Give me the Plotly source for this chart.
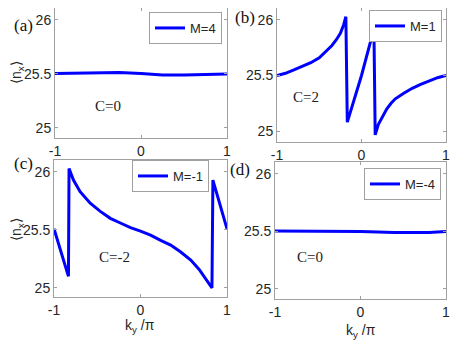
import plotly.graph_objects as go

W, H = 469, 352
OFF = 8  # browser body margin around the plot div
PW, PH = W - 2 * OFF, H - 2 * OFF

# panel (a), M=4, nearly flat
ky_a = [-1.0, -0.75, -0.5, -0.25, 0.0, 0.25, 0.5, 0.75, 1.0]
nx_a = [25.505, 25.507, 25.51, 25.513, 25.505, 25.49, 25.49, 25.495, 25.50]

# panel (b), M=1
ky_b = [-1.0, -0.9, -0.8, -0.7, -0.6, -0.5, -0.4, -0.35, -0.3, -0.25, -0.21, -0.185,
        -0.168, 0.0, 0.147, 0.162, 0.2, 0.25, 0.3, 0.35, 0.4, 0.5, 0.6, 0.7, 0.8, 0.9, 1.0]
nx_b = [25.50, 25.52, 25.55, 25.58, 25.615, 25.66, 25.73, 25.77, 25.82, 25.88, 25.96, 26.03,
        25.08, 25.50, 25.92, 24.965, 25.06, 25.13, 25.20, 25.25, 25.29, 25.34, 25.385, 25.42, 25.45, 25.48, 25.50]

# panel (c), M=-1
ky_c = [-1.0, -0.833, -0.826, -0.775, -0.698, -0.581, -0.465, -0.349, -0.233, -0.116, 0.0,
        0.116, 0.233, 0.349, 0.465, 0.581, 0.678, 0.756, 0.826, 0.837, 1.0]
nx_c = [25.51, 25.10, 26.03, 25.93, 25.83, 25.73, 25.66, 25.60, 25.56, 25.52, 25.49,
        25.455, 25.41, 25.37, 25.31, 25.24, 25.16, 25.07, 25.00, 25.93, 25.51]

# panel (d), M=-4, nearly flat
ky_d = [-1.0, -0.6, -0.4, 0.0, 0.4, 0.8, 1.0]
nx_d = [25.505, 25.505, 25.503, 25.50, 25.492, 25.492, 25.50]

panels = [
    ("a", ky_a, nx_a, "M=4", "C=0", (-0.38, 25.20), [55, 227], [8, 138], [24.907, 26.111], (222, 12)),
    ("b", ky_b, nx_b, "M=1", "C=2", (-0.66, 25.31), [277, 446], [8, 142], [24.901, 26.108], (442, 10)),
    ("c", ky_c, nx_c, "M=-1", "C=-2", (-0.30, 25.27), [54, 227], [160, 297], [24.922, 26.103], (209, 160)),
    ("d", ky_d, nx_d, "M=-4", "C=0", (-0.59, 25.28), [275, 446], [162, 299], [24.913, 26.104], (441, 168)),
]


def px_x(px):
    return min(1.0, max(0.0, (px - OFF) / PW))


def px_y(py):
    return min(1.0, max(0.0, 1 - (py - OFF) / PH))


AXIS_GREY = "#a0a0a0"
TICK_FONT = dict(family="Liberation Sans, Arial", size=14, color="#262626")
SERIF = "Liberation Serif, Times New Roman"

fig = go.Figure()
layout = dict(
    width=PW, height=PH,
    margin=dict(l=0, r=0, t=0, b=0),
    paper_bgcolor="white", plot_bgcolor="white",
    showlegend=True,
    annotations=[],
)

for i, (tag, kx, ny, mlabel, clabel, cpos, xpx, ypx, yrange, legpos) in enumerate(panels):
    n = "" if i == 0 else str(i + 1)
    leg = f"legend{i + 2}"
    fig.add_trace(go.Scatter(
        x=kx, y=ny, mode="lines", name=mlabel,
        line=dict(color="#0000ff", width=3),
        xaxis=f"x{n}", yaxis=f"y{n}", legend=leg,
    ))
    axis_common = dict(
        showline=True, linecolor=AXIS_GREY, linewidth=1, mirror="ticks",
        ticks="inside", ticklen=3, tickcolor=AXIS_GREY,
        showgrid=False, zeroline=False, tickfont=TICK_FONT, automargin=False,
    )
    layout[f"xaxis{n}"] = dict(
        axis_common,
        domain=[px_x(xpx[0]), px_x(xpx[1])], range=[-1, 1],
        tickvals=[-1, 0, 1], ticktext=["-1", "0", "1"],
        anchor=f"y{n}",
    )
    layout[f"yaxis{n}"] = dict(
        axis_common,
        domain=[px_y(ypx[1]), px_y(ypx[0])], range=yrange,
        tickvals=[25, 25.5, 26], ticktext=["25", "25.5", "26"],
        anchor=f"x{n}",
    )
    layout[leg] = dict(
        x=px_x(legpos[0]), y=px_y(legpos[1]), xanchor="right", yanchor="top",
        bordercolor=AXIS_GREY, borderwidth=1, bgcolor="white",
        font=dict(family="Liberation Sans, Arial", size=13, color="#262626"),
        itemwidth=30, tracegroupgap=0, visible=True,
    )
    layout["annotations"].append(dict(
        x=cpos[0], y=cpos[1], xref=f"x{n}", yref=f"y{n}", text=clabel,
        xanchor="center", yanchor="middle",
        showarrow=False, font=dict(family=SERIF, size=15, color="#222"),
    ))

# panel letters
for txt, px, py in [("(a)", 23, 25), ("(b)", 245, 17), ("(c)", 23, 163), ("(d)", 240, 169)]:
    layout["annotations"].append(dict(
        x=px_x(px), y=px_y(py), xref="paper", yref="paper", text=txt,
        xanchor="center", yanchor="middle",
        showarrow=False, font=dict(family=SERIF, size=17, color="#111"),
    ))

# y-axis titles
for py in (73, 230):
    layout["annotations"].append(dict(
        x=px_x(17), y=px_y(py), xref="paper", yref="paper",
        xanchor="center", yanchor="middle",
        text="\u27e8n<sub>x</sub>\u27e9", textangle=-90, showarrow=False,
        font=dict(family="Liberation Sans, Arial", size=14, color="#262626"),
    ))

# x-axis titles
for px, py in ((140, 326), (361, 331)):
    layout["annotations"].append(dict(
        x=px_x(px), y=px_y(py), xref="paper", yref="paper",
        xanchor="center", yanchor="middle",
        text="k<sub>y</sub> /\u03c0", showarrow=False,
        font=dict(family="Liberation Sans, Arial", size=14, color="#262626"),
    ))

fig.update_layout(**layout)
fig.write_html("out.html")
